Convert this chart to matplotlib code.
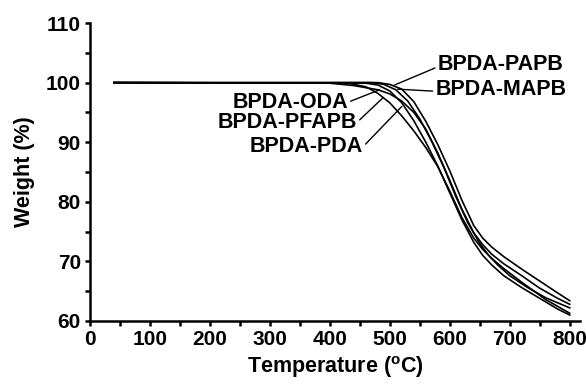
import numpy as np
import matplotlib.pyplot as plt
from matplotlib.ticker import MultipleLocator

# ---- TGA data ----
names = ["BPDA-ODA", "BPDA-PFAPB", "BPDA-PDA", "BPDA-PAPB", "BPDA-MAPB"]

temp_oda = [40, 400, 440, 480, 500, 520, 540, 560, 580, 600, 620, 640, 655, 670, 690, 720, 750, 780, 800]
wt_oda = [100, 99.9, 99.5, 98.8, 98.1, 96.9, 95.0, 92.2, 88.2, 83.6, 78.8, 74.8, 72.8, 71.2, 69.6, 67.6, 65.5, 63.8, 62.8]

temp_pfapb = [40, 430, 460, 480, 500, 520, 540, 560, 580, 600, 620, 640, 655, 670, 690, 720, 760, 800]
wt_pfapb = [100, 99.9, 99.3, 98.2, 96.6, 94.4, 91.9, 89.1, 85.9, 81.8, 77.4, 73.9, 72.0, 70.5, 68.8, 66.5, 63.6, 61.3]

temp_pda = [40, 460, 480, 500, 520, 540, 560, 580, 600, 620, 640, 655, 670, 690, 720, 750, 780, 800]
wt_pda = [100, 99.9, 99.6, 98.6, 96.6, 93.6, 90.0, 86.0, 81.5, 77.0, 73.2, 71.0, 69.4, 67.6, 65.6, 63.8, 62.0, 61.0]

temp_papb = [40, 480, 500, 520, 540, 560, 580, 600, 620, 640, 655, 670, 690, 720, 750, 780, 800]
wt_papb = [100, 100, 99.7, 98.9, 96.8, 93.5, 89.6, 85.2, 80.3, 76.0, 73.9, 72.4, 70.8, 68.7, 66.7, 64.7, 63.4]

temp_mapb = [40, 470, 490, 510, 530, 550, 570, 590, 610, 630, 650, 665, 680, 700, 730, 760, 800]
wt_mapb = [100, 100, 99.7, 98.8, 96.9, 93.9, 90.1, 85.8, 80.9, 76.5, 73.0, 71.0, 69.4, 67.6, 65.6, 63.9, 62.2]

# label text position and the point the leader line goes to (data units)
label_xy = [(430, 96.7), (445, 93.3), (455, 89.2), (580, 103.0), (576, 98.9)]
tip_xy = [(483, 98.8), (488, 97.4), (520, 96.0), (508, 99.6), (513, 98.9)]

plt.rcParams['font.family'] = ['Liberation Sans', 'DejaVu Sans']
plt.rcParams['font.weight'] = 'bold'
plt.rcParams['mathtext.default'] = 'regular'

fig = plt.figure(figsize=(5.86, 3.88), dpi=100)
ax = fig.add_axes([0.1536, 0.1727, 0.836, 0.768])

series = [(temp_oda, wt_oda), (temp_pfapb, wt_pfapb), (temp_pda, wt_pda),
          (temp_papb, wt_papb), (temp_mapb, wt_mapb)]
for t, w in series:
    ax.plot(t, w, color='black', lw=1.2, solid_joinstyle='round')

# leader labels
for i, name in enumerate(names):
    left_side = i < 3
    ax.annotate(name, xy=tip_xy[i], xytext=label_xy[i],
                ha='right' if left_side else 'left', va='center',
                fontsize=15.5, fontweight='bold',
                arrowprops=dict(arrowstyle='-', color='black', lw=1.0,
                                shrinkA=0, shrinkB=0,
                                relpos=(1, 0.5) if left_side else (0, 0.4)))

ax.set_xlim(0, 817)
ax.set_ylim(60, 110)
ax.xaxis.set_major_locator(MultipleLocator(100))
ax.xaxis.set_minor_locator(MultipleLocator(50))
ax.yaxis.set_major_locator(MultipleLocator(10))
ax.yaxis.set_minor_locator(MultipleLocator(5))

for side in ['top', 'right']:
    ax.spines[side].set_visible(False)
for side in ['left', 'bottom']:
    ax.spines[side].set_linewidth(1.8)

ax.tick_params(which='both', direction='out', length=3.5, width=1.8,
               labelsize=15, pad=3)

ax.set_xlabel(r"Temperature ($^{o}$C)", fontsize=15.5, fontweight='bold', labelpad=4)
ax.set_ylabel("Weight (%)", fontsize=15.5, fontweight='bold', labelpad=8)

fig.savefig("out.png", dpi=100)
